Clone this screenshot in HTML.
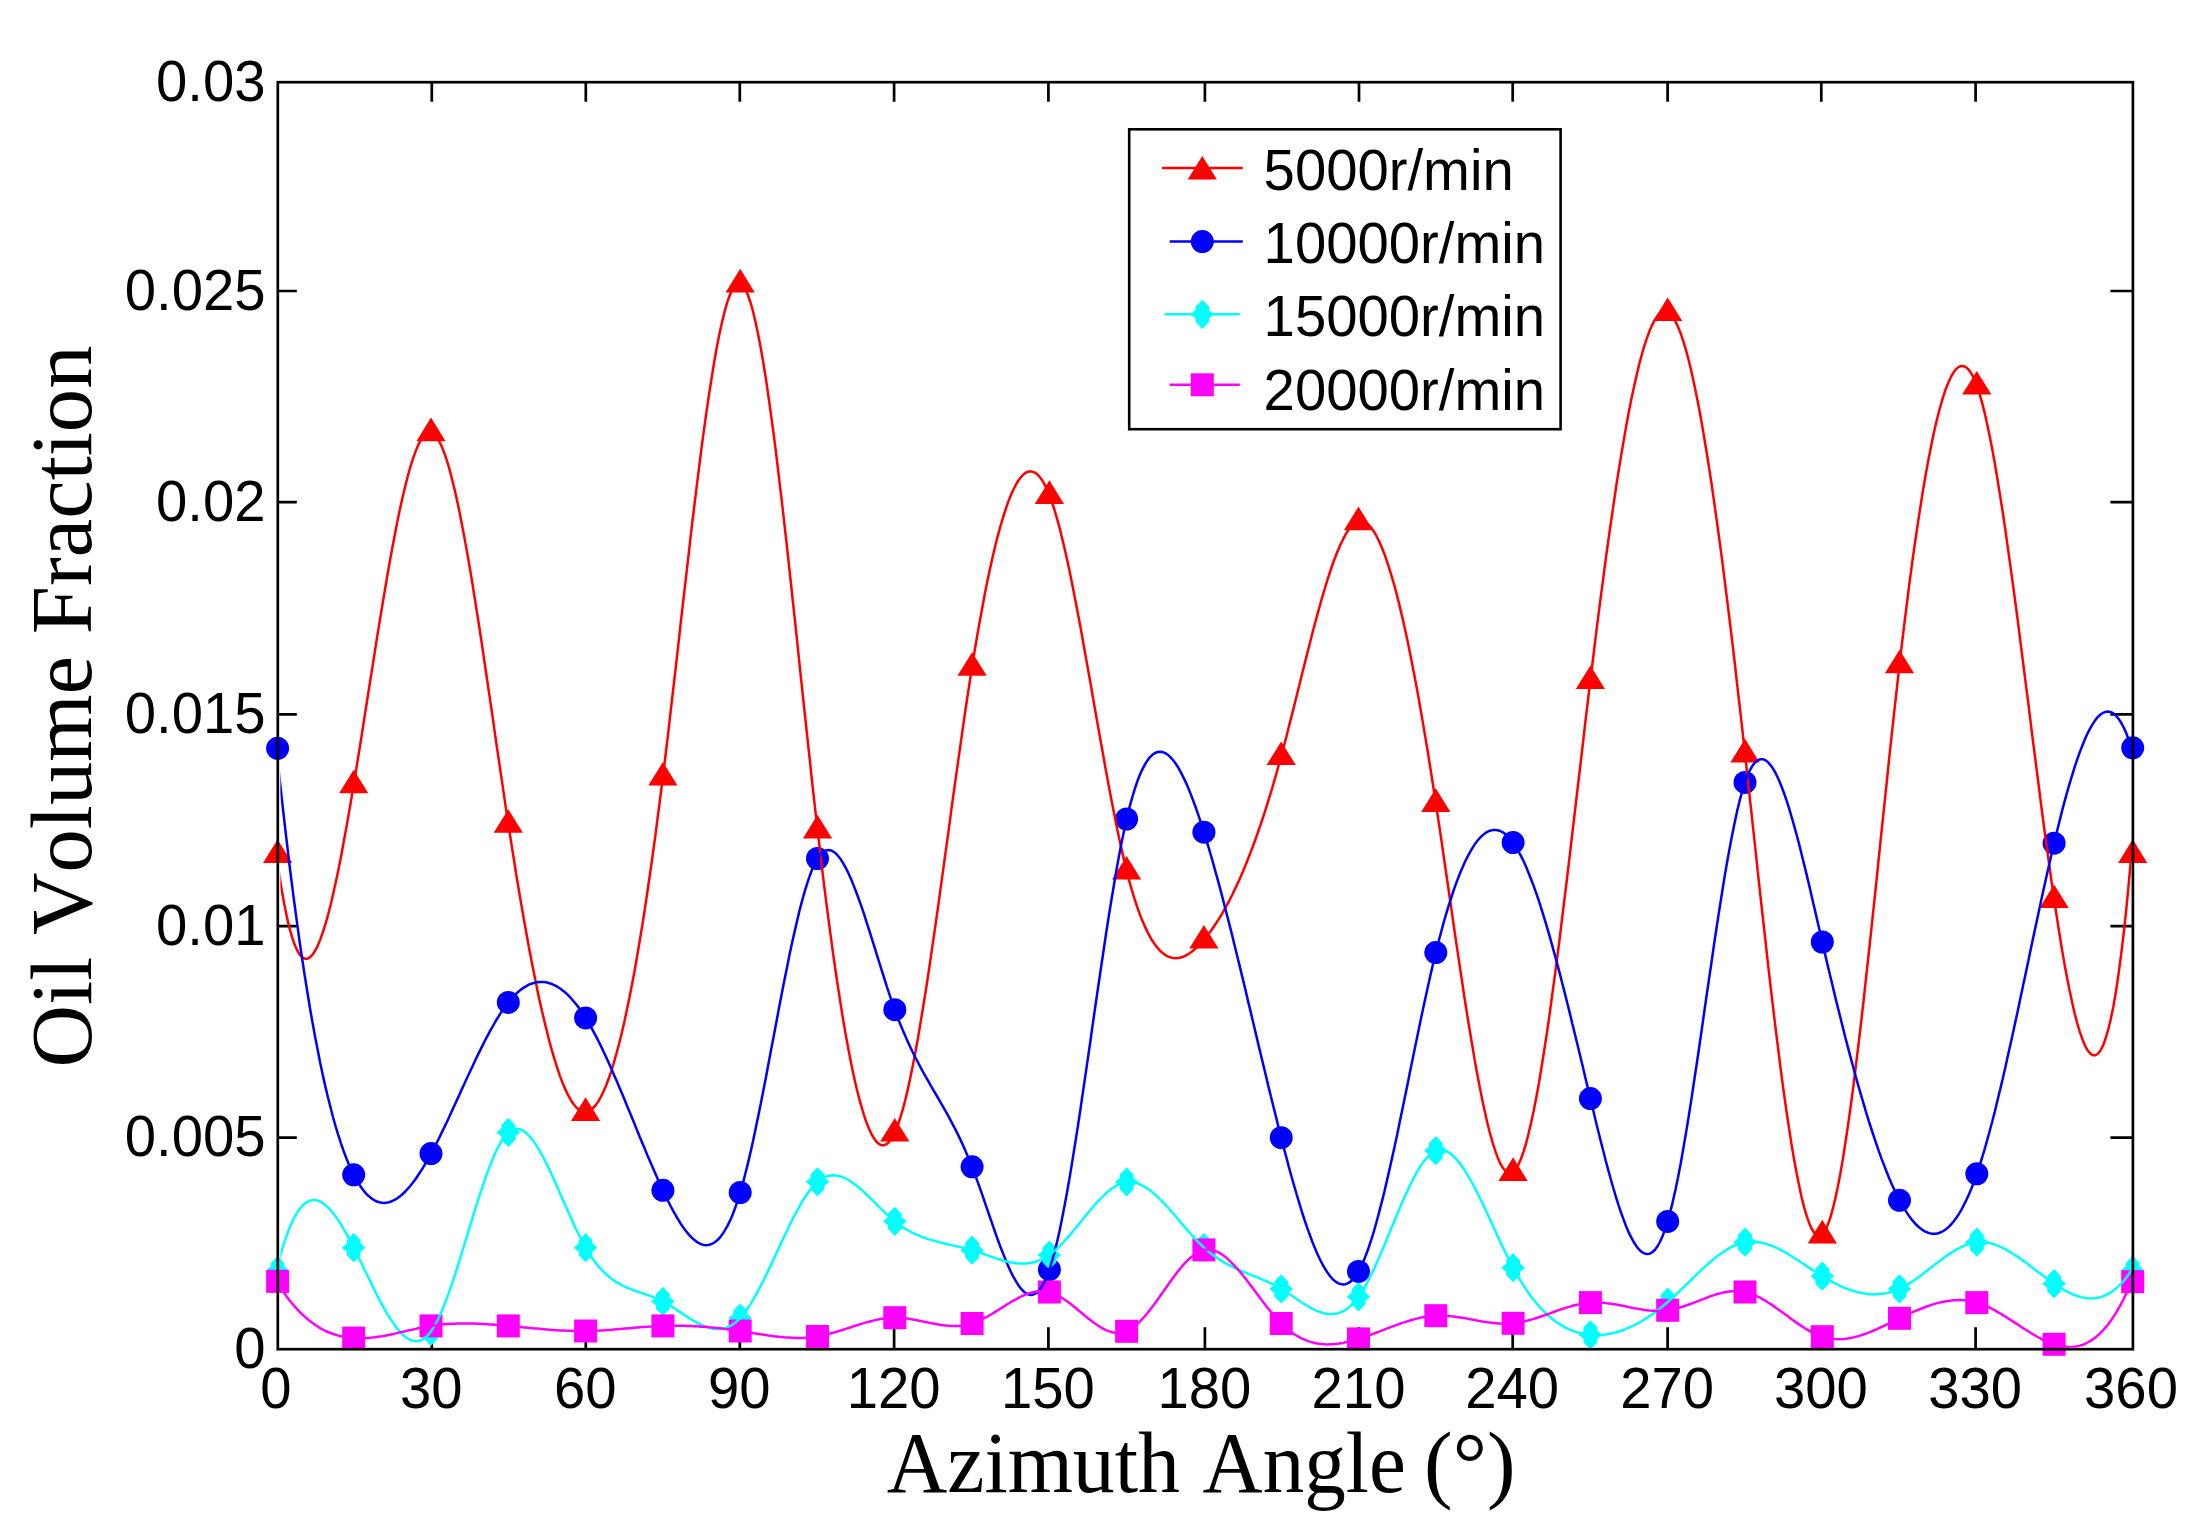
<!DOCTYPE html>
<html lang="en">
<head>
<meta charset="utf-8">
<title>Oil Volume Fraction vs Azimuth Angle</title>
<style>
html,body{margin:0;padding:0;background:#fff;}
body{width:2194px;height:1532px;overflow:hidden;}
svg{display:block;}
</style>
</head>
<body>
<svg width="2194" height="1532" viewBox="0 0 2194 1532">
<rect width="2194" height="1532" fill="#ffffff"/>
<g id="ticks" stroke="#000" stroke-width="2.7" fill="none" stroke-linecap="square">
<path stroke-linecap="butt" d="M431.8 82.2V101.7M431.8 1349.2V1327.2M585.8 82.2V101.7M585.8 1349.2V1327.2M739.8 82.2V101.7M739.8 1349.2V1327.2M894.1 82.2V101.7M894.1 1349.2V1327.2M1048.4 82.2V101.7M1048.4 1349.2V1327.2M1204.9 82.2V101.7M1204.9 1349.2V1327.2M1359 82.2V101.7M1359 1349.2V1327.2M1512.7 82.2V101.7M1512.7 1349.2V1327.2M1667.6 82.2V101.7M1667.6 1349.2V1327.2M1821.3 82.2V101.7M1821.3 1349.2V1327.2M1975.6 82.2V101.7M1975.6 1349.2V1327.2M277.8 1137.6H296.8M2132.9 1137.6H2110.4M277.8 926.2H296.8M2132.9 926.2H2110.4M277.8 714.3H296.8M2132.9 714.3H2110.4M277.8 502.2H296.8M2132.9 502.2H2110.4M277.8 291H296.8M2132.9 291H2110.4"/>
</g>
<g id="markers">
<g>
<polygon points="277.6,839.5 263,863.1 292.2,863.1" fill="#ff0000"/>
<polygon points="353.7,769.7 339.1,793.3 368.3,793.3" fill="#ff0000"/>
<polygon points="431,417.6 416.4,441.2 445.6,441.2" fill="#ff0000"/>
<polygon points="508.3,809.2 493.7,832.8 522.9,832.8" fill="#ff0000"/>
<polygon points="585.6,1097.3 571,1120.9 600.2,1120.9" fill="#ff0000"/>
<polygon points="662.9,762 648.3,785.6 677.5,785.6" fill="#ff0000"/>
<polygon points="740.2,268.8 725.6,292.4 754.8,292.4" fill="#ff0000"/>
<polygon points="817.5,814.8 802.9,838.4 832.1,838.4" fill="#ff0000"/>
<polygon points="894.8,1118 880.2,1141.6 909.4,1141.6" fill="#ff0000"/>
<polygon points="972.1,652.2 957.5,675.8 986.7,675.8" fill="#ff0000"/>
<polygon points="1049.4,480.3 1034.8,503.9 1064,503.9" fill="#ff0000"/>
<polygon points="1126.6,856 1112,879.6 1141.2,879.6" fill="#ff0000"/>
<polygon points="1203.9,925 1189.3,948.6 1218.5,948.6" fill="#ff0000"/>
<polygon points="1281.2,741.4 1266.6,765 1295.8,765" fill="#ff0000"/>
<polygon points="1358.5,506.6 1343.9,530.2 1373.1,530.2" fill="#ff0000"/>
<polygon points="1435.8,788.3 1421.2,811.9 1450.4,811.9" fill="#ff0000"/>
<polygon points="1513.1,1157.3 1498.5,1180.9 1527.7,1180.9" fill="#ff0000"/>
<polygon points="1590.4,665.5 1575.8,689.1 1605,689.1" fill="#ff0000"/>
<polygon points="1667.7,297.4 1653.1,321 1682.3,321" fill="#ff0000"/>
<polygon points="1745,738.8 1730.4,762.4 1759.6,762.4" fill="#ff0000"/>
<polygon points="1822.3,1219.8 1807.7,1243.4 1836.9,1243.4" fill="#ff0000"/>
<polygon points="1899.5,649.7 1884.9,673.3 1914.1,673.3" fill="#ff0000"/>
<polygon points="1976.8,371 1962.2,394.6 1991.4,394.6" fill="#ff0000"/>
<polygon points="2054.1,884.5 2039.5,908.1 2068.7,908.1" fill="#ff0000"/>
<polygon points="2132.7,839.3 2118.1,862.9 2147.3,862.9" fill="#ff0000"/>
</g>
<g>
<circle cx="277.6" cy="748.3" r="11.5" fill="#0000ff"/>
<circle cx="353.7" cy="1174.8" r="11.5" fill="#0000ff"/>
<circle cx="431" cy="1153.6" r="11.5" fill="#0000ff"/>
<circle cx="508.3" cy="1002.4" r="11.5" fill="#0000ff"/>
<circle cx="585.6" cy="1017.9" r="11.5" fill="#0000ff"/>
<circle cx="662.9" cy="1190.3" r="11.5" fill="#0000ff"/>
<circle cx="740.2" cy="1192.6" r="11.5" fill="#0000ff"/>
<circle cx="817.5" cy="858.5" r="11.5" fill="#0000ff"/>
<circle cx="894.8" cy="1009.7" r="11.5" fill="#0000ff"/>
<circle cx="972.1" cy="1166.8" r="11.5" fill="#0000ff"/>
<circle cx="1049.4" cy="1269.7" r="11.5" fill="#0000ff"/>
<circle cx="1126.6" cy="819" r="11.5" fill="#0000ff"/>
<circle cx="1203.9" cy="832.2" r="11.5" fill="#0000ff"/>
<circle cx="1281.2" cy="1137.7" r="11.5" fill="#0000ff"/>
<circle cx="1358.5" cy="1271.4" r="11.5" fill="#0000ff"/>
<circle cx="1435.8" cy="952.6" r="11.5" fill="#0000ff"/>
<circle cx="1513.1" cy="842.6" r="11.5" fill="#0000ff"/>
<circle cx="1590.4" cy="1098.6" r="11.5" fill="#0000ff"/>
<circle cx="1667.7" cy="1221.4" r="11.5" fill="#0000ff"/>
<circle cx="1745" cy="782.4" r="11.5" fill="#0000ff"/>
<circle cx="1822.3" cy="942" r="11.5" fill="#0000ff"/>
<circle cx="1899.5" cy="1200.3" r="11.5" fill="#0000ff"/>
<circle cx="1976.8" cy="1173.8" r="11.5" fill="#0000ff"/>
<circle cx="2054.1" cy="843.2" r="11.5" fill="#0000ff"/>
<circle cx="2132.7" cy="747.8" r="11.5" fill="#0000ff"/>
</g>
<g>
<polygon points="277.6,1256.1 284.5,1263.2 284.5,1266.6 289.4,1270.7 284.5,1274.8 284.5,1278.2 277.6,1285.3 270.7,1278.2 270.7,1274.8 265.8,1270.7 270.7,1266.6 270.7,1263.2" fill="#00ffff"/>
<polygon points="353.7,1233.1 360.6,1240.2 360.6,1243.6 365.5,1247.7 360.6,1251.8 360.6,1255.2 353.7,1262.3 346.8,1255.2 346.8,1251.8 341.9,1247.7 346.8,1243.6 346.8,1240.2" fill="#00ffff"/>
<polygon points="431,1316.7 437.9,1323.8 437.9,1327.2 442.8,1331.3 437.9,1335.4 437.9,1338.8 431,1345.9 424.1,1338.8 424.1,1335.4 419.2,1331.3 424.1,1327.2 424.1,1323.8" fill="#00ffff"/>
<polygon points="508.3,1117.8 515.2,1124.9 515.2,1128.3 520.1,1132.4 515.2,1136.5 515.2,1139.9 508.3,1147 501.4,1139.9 501.4,1136.5 496.5,1132.4 501.4,1128.3 501.4,1124.9" fill="#00ffff"/>
<polygon points="585.6,1233.1 592.5,1240.2 592.5,1243.6 597.4,1247.7 592.5,1251.8 592.5,1255.2 585.6,1262.3 578.7,1255.2 578.7,1251.8 573.8,1247.7 578.7,1243.6 578.7,1240.2" fill="#00ffff"/>
<polygon points="662.9,1286.8 669.8,1293.9 669.8,1297.3 674.7,1301.4 669.8,1305.5 669.8,1308.9 662.9,1316 656,1308.9 656,1305.5 651.1,1301.4 656,1297.3 656,1293.9" fill="#00ffff"/>
<polygon points="740.2,1303.4 747.1,1310.5 747.1,1313.9 752,1318 747.1,1322.1 747.1,1325.5 740.2,1332.6 733.3,1325.5 733.3,1322.1 728.4,1318 733.3,1313.9 733.3,1310.5" fill="#00ffff"/>
<polygon points="817.5,1167.2 824.4,1174.3 824.4,1177.7 829.3,1181.8 824.4,1185.9 824.4,1189.3 817.5,1196.4 810.6,1189.3 810.6,1185.9 805.7,1181.8 810.6,1177.7 810.6,1174.3" fill="#00ffff"/>
<polygon points="894.8,1206.7 901.7,1213.8 901.7,1217.2 906.6,1221.3 901.7,1225.4 901.7,1228.8 894.8,1235.9 887.9,1228.8 887.9,1225.4 883,1221.3 887.9,1217.2 887.9,1213.8" fill="#00ffff"/>
<polygon points="972.1,1235.6 979,1242.7 979,1246.1 983.9,1250.2 979,1254.3 979,1257.7 972.1,1264.8 965.2,1257.7 965.2,1254.3 960.3,1250.2 965.2,1246.1 965.2,1242.7" fill="#00ffff"/>
<polygon points="1049.4,1240.4 1056.3,1247.5 1056.3,1250.9 1061.2,1255 1056.3,1259.1 1056.3,1262.5 1049.4,1269.6 1042.5,1262.5 1042.5,1259.1 1037.6,1255 1042.5,1250.9 1042.5,1247.5" fill="#00ffff"/>
<polygon points="1126.6,1167.4 1133.5,1174.5 1133.5,1177.9 1138.4,1182 1133.5,1186.1 1133.5,1189.5 1126.6,1196.6 1119.7,1189.5 1119.7,1186.1 1114.8,1182 1119.7,1177.9 1119.7,1174.5" fill="#00ffff"/>
<polygon points="1203.9,1233 1210.8,1240.1 1210.8,1243.5 1215.7,1247.6 1210.8,1251.7 1210.8,1255.1 1203.9,1262.2 1197,1255.1 1197,1251.7 1192.1,1247.6 1197,1243.5 1197,1240.1" fill="#00ffff"/>
<polygon points="1281.2,1274.3 1288.1,1281.4 1288.1,1284.8 1293,1288.9 1288.1,1293 1288.1,1296.4 1281.2,1303.5 1274.3,1296.4 1274.3,1293 1269.4,1288.9 1274.3,1284.8 1274.3,1281.4" fill="#00ffff"/>
<polygon points="1358.5,1282.2 1365.4,1289.3 1365.4,1292.7 1370.3,1296.8 1365.4,1300.9 1365.4,1304.3 1358.5,1311.4 1351.6,1304.3 1351.6,1300.9 1346.7,1296.8 1351.6,1292.7 1351.6,1289.3" fill="#00ffff"/>
<polygon points="1435.8,1136.1 1442.7,1143.2 1442.7,1146.6 1447.6,1150.7 1442.7,1154.8 1442.7,1158.2 1435.8,1165.3 1428.9,1158.2 1428.9,1154.8 1424,1150.7 1428.9,1146.6 1428.9,1143.2" fill="#00ffff"/>
<polygon points="1513.1,1253.1 1520,1260.2 1520,1263.6 1524.9,1267.7 1520,1271.8 1520,1275.2 1513.1,1282.3 1506.2,1275.2 1506.2,1271.8 1501.3,1267.7 1506.2,1263.6 1506.2,1260.2" fill="#00ffff"/>
<polygon points="1590.4,1320.2 1597.3,1327.3 1597.3,1330.7 1602.2,1334.8 1597.3,1338.9 1597.3,1342.3 1590.4,1349.4 1583.5,1342.3 1583.5,1338.9 1578.6,1334.8 1583.5,1330.7 1583.5,1327.3" fill="#00ffff"/>
<polygon points="1667.7,1287.4 1674.6,1294.5 1674.6,1297.9 1679.5,1302 1674.6,1306.1 1674.6,1309.5 1667.7,1316.6 1660.8,1309.5 1660.8,1306.1 1655.9,1302 1660.8,1297.9 1660.8,1294.5" fill="#00ffff"/>
<polygon points="1745,1227.6 1751.9,1234.7 1751.9,1238.1 1756.8,1242.2 1751.9,1246.3 1751.9,1249.7 1745,1256.8 1738.1,1249.7 1738.1,1246.3 1733.2,1242.2 1738.1,1238.1 1738.1,1234.7" fill="#00ffff"/>
<polygon points="1822.3,1261.6 1829.2,1268.7 1829.2,1272.1 1834.1,1276.2 1829.2,1280.3 1829.2,1283.7 1822.3,1290.8 1815.4,1283.7 1815.4,1280.3 1810.5,1276.2 1815.4,1272.1 1815.4,1268.7" fill="#00ffff"/>
<polygon points="1899.5,1274.2 1906.4,1281.3 1906.4,1284.7 1911.3,1288.8 1906.4,1292.9 1906.4,1296.3 1899.5,1303.4 1892.6,1296.3 1892.6,1292.9 1887.7,1288.8 1892.6,1284.7 1892.6,1281.3" fill="#00ffff"/>
<polygon points="1976.8,1227.6 1983.7,1234.7 1983.7,1238.1 1988.6,1242.2 1983.7,1246.3 1983.7,1249.7 1976.8,1256.8 1969.9,1249.7 1969.9,1246.3 1965,1242.2 1969.9,1238.1 1969.9,1234.7" fill="#00ffff"/>
<polygon points="2054.1,1269.1 2061,1276.2 2061,1279.6 2065.9,1283.7 2061,1287.8 2061,1291.2 2054.1,1298.3 2047.2,1291.2 2047.2,1287.8 2042.3,1283.7 2047.2,1279.6 2047.2,1276.2" fill="#00ffff"/>
<polygon points="2132.7,1255.8 2139.6,1262.9 2139.6,1266.3 2144.5,1270.4 2139.6,1274.5 2139.6,1277.9 2132.7,1285 2125.8,1277.9 2125.8,1274.5 2120.9,1270.4 2125.8,1266.3 2125.8,1262.9" fill="#00ffff"/>
</g>
<g>
<rect x="266.1" y="1269.9" width="23" height="23" fill="#ff00ff"/>
<rect x="342.2" y="1326.6" width="23" height="23" fill="#ff00ff"/>
<rect x="419.5" y="1314.4" width="23" height="23" fill="#ff00ff"/>
<rect x="496.8" y="1314.4" width="23" height="23" fill="#ff00ff"/>
<rect x="574.1" y="1319.5" width="23" height="23" fill="#ff00ff"/>
<rect x="651.4" y="1314.4" width="23" height="23" fill="#ff00ff"/>
<rect x="728.7" y="1319.5" width="23" height="23" fill="#ff00ff"/>
<rect x="806" y="1324.9" width="23" height="23" fill="#ff00ff"/>
<rect x="883.3" y="1306.2" width="23" height="23" fill="#ff00ff"/>
<rect x="960.6" y="1312" width="23" height="23" fill="#ff00ff"/>
<rect x="1037.9" y="1280.5" width="23" height="23" fill="#ff00ff"/>
<rect x="1115.1" y="1319.8" width="23" height="23" fill="#ff00ff"/>
<rect x="1192.4" y="1238.4" width="23" height="23" fill="#ff00ff"/>
<rect x="1269.7" y="1312" width="23" height="23" fill="#ff00ff"/>
<rect x="1347" y="1327.4" width="23" height="23" fill="#ff00ff"/>
<rect x="1424.3" y="1304.2" width="23" height="23" fill="#ff00ff"/>
<rect x="1501.6" y="1311.8" width="23" height="23" fill="#ff00ff"/>
<rect x="1578.9" y="1291.1" width="23" height="23" fill="#ff00ff"/>
<rect x="1656.2" y="1298.8" width="23" height="23" fill="#ff00ff"/>
<rect x="1733.5" y="1280.5" width="23" height="23" fill="#ff00ff"/>
<rect x="1810.8" y="1325.2" width="23" height="23" fill="#ff00ff"/>
<rect x="1888" y="1306.8" width="23" height="23" fill="#ff00ff"/>
<rect x="1965.3" y="1291.1" width="23" height="23" fill="#ff00ff"/>
<rect x="2042.6" y="1332.8" width="23" height="23" fill="#ff00ff"/>
<rect x="2121.2" y="1270.2" width="23" height="23" fill="#ff00ff"/>
</g>
</g>
<defs><clipPath id="plotclip"><rect x="280.4" y="83.6" width="1851.1" height="1264.2"/></clipPath></defs>
<g id="curves" fill="none" stroke-width="2.5" stroke-linejoin="bevel" clip-path="url(#plotclip)">
<polyline stroke="#ff0000" points="276.4,854.2 279,872.7 281.6,889.2 284.2,903.8 286.8,916.6 289.3,927.5 291.9,936.7 294.5,944.3 297.1,950.2 299.6,954.5 302.2,957.3 304.8,958.7 307.4,958.7 309.9,957.3 312.5,954.7 315.1,950.8 317.7,945.8 320.2,939.6 322.8,932.4 325.4,924.2 328,915.1 330.6,905 333.1,894.2 335.7,882.6 338.3,870.2 340.9,857.2 343.4,843.6 346,829.5 348.6,814.9 351.2,799.8 353.7,784.4 356.3,768.7 358.9,752.7 361.5,736.5 364,720.2 366.6,703.7 369.2,687.3 371.8,670.9 374.4,654.5 376.9,638.4 379.5,622.4 382.1,606.6 384.7,591.2 387.2,576.2 389.8,561.5 392.4,547.4 395,533.8 397.5,520.8 400.1,508.5 402.7,496.8 405.3,486 407.8,476 410.4,466.8 413,458.6 415.6,451.4 418.1,445.2 420.7,440.2 423.3,436.3 425.9,433.7 428.5,432.3 431,432.3 433.6,433.7 436.2,436.4 438.8,440.3 441.3,445.5 443.9,451.9 446.5,459.4 449.1,467.9 451.6,477.5 454.2,487.9 456.8,499.3 459.4,511.5 461.9,524.4 464.5,538.1 467.1,552.4 469.7,567.3 472.3,582.8 474.8,598.7 477.4,615.1 480,631.8 482.6,648.9 485.1,666.2 487.7,683.7 490.3,701.3 492.9,719 495.4,736.8 498,754.5 500.6,772.1 503.2,789.6 505.7,806.9 508.3,823.9 510.9,840.6 513.5,857 516,873 518.6,888.7 521.2,903.9 523.8,918.8 526.4,933.3 528.9,947.3 531.5,960.8 534.1,973.9 536.7,986.6 539.2,998.7 541.8,1010.3 544.4,1021.3 547,1031.8 549.5,1041.8 552.1,1051.1 554.7,1059.9 557.3,1068 559.8,1075.6 562.4,1082.4 565,1088.6 567.6,1094.1 570.2,1098.9 572.7,1103 575.3,1106.3 577.9,1108.9 580.5,1110.7 583,1111.8 585.6,1112 588.2,1111.4 590.8,1110 593.3,1107.8 595.9,1104.9 598.5,1101.1 601.1,1096.5 603.6,1091.2 606.2,1085.2 608.8,1078.3 611.4,1070.8 613.9,1062.5 616.5,1053.4 619.1,1043.7 621.7,1033.3 624.3,1022.1 626.8,1010.3 629.4,997.7 632,984.6 634.6,970.7 637.1,956.2 639.7,941 642.3,925.2 644.9,908.8 647.4,891.7 650,874 652.6,855.7 655.2,836.8 657.7,817.4 660.3,797.3 662.9,776.7 665.5,755.5 668.1,733.9 670.6,711.8 673.2,689.5 675.8,666.9 678.4,644.2 680.9,621.5 683.5,598.8 686.1,576.2 688.7,553.8 691.2,531.7 693.8,510 696.4,488.8 699,468.2 701.5,448.1 704.1,428.9 706.7,410.4 709.3,392.8 711.9,376.2 714.4,360.7 717,346.3 719.6,333.2 722.2,321.4 724.7,311.1 727.3,302.2 729.9,295 732.5,289.4 735,285.5 737.6,283.5 740.2,283.5 742.8,285.4 745.3,289.3 747.9,295 750.5,302.5 753.1,311.7 755.6,322.4 758.2,334.7 760.8,348.3 763.4,363.3 766,379.5 768.5,396.9 771.1,415.3 773.7,434.7 776.3,455 778.8,476.1 781.4,497.9 784,520.3 786.6,543.3 789.1,566.7 791.7,590.5 794.3,614.6 796.9,638.8 799.4,663.2 802,687.6 804.6,711.9 807.2,736.1 809.8,760 812.3,783.6 814.9,806.8 817.5,829.5 820.1,851.6 822.6,873.1 825.2,893.9 827.8,914.1 830.4,933.6 832.9,952.4 835.5,970.5 838.1,987.8 840.7,1004.4 843.2,1020.1 845.8,1035.1 848.4,1049.2 851,1062.4 853.5,1074.7 856.1,1086.2 858.7,1096.7 861.3,1106.2 863.9,1114.8 866.4,1122.3 869,1128.8 871.6,1134.3 874.2,1138.7 876.7,1142 879.3,1144.2 881.9,1145.3 884.5,1145.2 887,1143.9 889.6,1141.4 892.2,1137.7 894.8,1132.7 897.3,1126.5 899.9,1119 902.5,1110.4 905.1,1100.7 907.7,1089.9 910.2,1078.2 912.8,1065.6 915.4,1052.1 918,1037.9 920.5,1022.9 923.1,1007.3 925.7,991.1 928.3,974.3 930.8,957.1 933.4,939.4 936,921.4 938.6,903.1 941.1,884.6 943.7,865.9 946.3,847.1 948.9,828.3 951.4,809.4 954,790.7 956.6,772.1 959.2,753.7 961.8,735.6 964.3,717.8 966.9,700.3 969.5,683.4 972.1,666.9 974.6,651 977.2,635.7 979.8,621 982.4,606.9 984.9,593.4 987.5,580.6 990.1,568.4 992.7,556.8 995.2,546 997.8,535.8 1000.4,526.3 1003,517.5 1005.6,509.5 1008.1,502.1 1010.7,495.6 1013.3,489.8 1015.9,484.7 1018.4,480.5 1021,477 1023.6,474.3 1026.2,472.5 1028.7,471.5 1031.3,471.4 1033.9,472.1 1036.5,473.6 1039,476.1 1041.6,479.4 1044.2,483.7 1046.8,488.9 1049.4,495 1051.9,502 1054.5,510 1057.1,518.8 1059.7,528.3 1062.2,538.6 1064.8,549.5 1067.4,561.1 1070,573.2 1072.5,585.8 1075.1,598.9 1077.7,612.4 1080.3,626.2 1082.8,640.3 1085.4,654.7 1088,669.2 1090.6,683.8 1093.1,698.5 1095.7,713.2 1098.3,727.9 1100.9,742.5 1103.5,756.9 1106,771.1 1108.6,785 1111.2,798.7 1113.8,811.9 1116.3,824.7 1118.9,837.1 1121.5,848.9 1124.1,860.1 1126.6,870.7 1129.2,880.6 1131.8,889.8 1134.4,898.3 1136.9,906.2 1139.5,913.4 1142.1,920.1 1144.7,926.1 1147.3,931.6 1149.8,936.5 1152.4,940.8 1155,944.6 1157.6,947.9 1160.1,950.8 1162.7,953.1 1165.3,955 1167.9,956.4 1170.4,957.4 1173,958 1175.6,958.2 1178.2,958.1 1180.7,957.5 1183.3,956.7 1185.9,955.5 1188.5,954 1191,952.3 1193.6,950.2 1196.2,947.9 1198.8,945.4 1201.4,942.6 1203.9,939.7 1206.5,936.6 1209.1,933.2 1211.7,929.7 1214.2,926 1216.8,922.2 1219.4,918.1 1222,913.8 1224.5,909.3 1227.1,904.6 1229.7,899.8 1232.3,894.7 1234.8,889.4 1237.4,883.9 1240,878.2 1242.6,872.2 1245.2,866.1 1247.7,859.7 1250.3,853.1 1252.9,846.3 1255.5,839.3 1258,832 1260.6,824.6 1263.2,816.8 1265.8,808.9 1268.3,800.7 1270.9,792.3 1273.5,783.6 1276.1,774.7 1278.6,765.5 1281.2,756.1 1283.8,746.5 1286.4,736.6 1288.9,726.5 1291.5,716.4 1294.1,706.1 1296.7,695.7 1299.3,685.3 1301.8,675 1304.4,664.6 1307,654.4 1309.6,644.2 1312.1,634.2 1314.7,624.4 1317.3,614.8 1319.9,605.5 1322.4,596.5 1325,587.8 1327.6,579.4 1330.2,571.5 1332.7,564 1335.3,557 1337.9,550.5 1340.5,544.5 1343.1,539.2 1345.6,534.4 1348.2,530.3 1350.8,526.9 1353.4,524.3 1355.9,522.4 1358.5,521.3 1361.1,521 1363.7,521.6 1366.2,523 1368.8,525.1 1371.4,528.1 1374,531.7 1376.5,536.2 1379.1,541.3 1381.7,547.2 1384.3,553.7 1386.8,560.9 1389.4,568.8 1392,577.3 1394.6,586.4 1397.2,596.1 1399.7,606.4 1402.3,617.3 1404.9,628.8 1407.5,640.7 1410,653.2 1412.6,666.2 1415.2,679.7 1417.8,693.6 1420.3,708 1422.9,722.9 1425.5,738.1 1428.1,753.8 1430.6,769.8 1433.2,786.2 1435.8,803 1438.4,820.1 1441,837.4 1443.5,855 1446.1,872.7 1448.7,890.5 1451.3,908.3 1453.8,926 1456.4,943.6 1459,961.1 1461.6,978.3 1464.1,995.2 1466.7,1011.7 1469.3,1027.8 1471.9,1043.3 1474.4,1058.4 1477,1072.7 1479.6,1086.4 1482.2,1099.4 1484.8,1111.5 1487.3,1122.7 1489.9,1133 1492.5,1142.2 1495.1,1150.4 1497.6,1157.4 1500.2,1163.3 1502.8,1167.8 1505.4,1171 1507.9,1172.8 1510.5,1173.2 1513.1,1172 1515.7,1169.2 1518.2,1165 1520.8,1159.2 1523.4,1152.1 1526,1143.6 1528.5,1133.8 1531.1,1122.8 1533.7,1110.7 1536.3,1097.4 1538.9,1083.2 1541.4,1068 1544,1051.8 1546.6,1034.9 1549.2,1017.2 1551.7,998.7 1554.3,979.7 1556.9,960 1559.5,939.8 1562,919.2 1564.6,898.2 1567.2,876.8 1569.8,855.2 1572.3,833.4 1574.9,811.4 1577.5,789.4 1580.1,767.3 1582.7,745.3 1585.2,723.4 1587.8,701.7 1590.4,680.2 1593,659 1595.5,638.2 1598.1,617.7 1600.7,597.6 1603.3,577.9 1605.8,558.7 1608.4,540 1611,521.7 1613.6,504.1 1616.1,487 1618.7,470.5 1621.3,454.6 1623.9,439.4 1626.4,424.9 1629,411.1 1631.6,398.1 1634.2,385.9 1636.8,374.5 1639.3,363.9 1641.9,354.2 1644.5,345.4 1647.1,337.6 1649.6,330.7 1652.2,324.8 1654.8,319.9 1657.4,316.1 1659.9,313.4 1662.5,311.8 1665.1,311.4 1667.7,312.1 1670.2,314 1672.8,317.1 1675.4,321.4 1678,326.8 1680.6,333.2 1683.1,340.7 1685.7,349.2 1688.3,358.7 1690.9,369.2 1693.4,380.6 1696,392.9 1698.6,406 1701.2,420 1703.7,434.7 1706.3,450.2 1708.9,466.5 1711.5,483.5 1714,501.1 1716.6,519.4 1719.2,538.3 1721.8,557.7 1724.3,577.7 1726.9,598.2 1729.5,619.2 1732.1,640.7 1734.7,662.5 1737.2,684.8 1739.8,707.4 1742.4,730.3 1745,753.5 1747.5,777 1750.1,800.6 1752.7,824.4 1755.3,848.2 1757.8,871.9 1760.4,895.5 1763,919 1765.6,942.2 1768.1,965 1770.7,987.4 1773.3,1009.4 1775.9,1030.8 1778.5,1051.5 1781,1071.6 1783.6,1090.8 1786.2,1109.2 1788.8,1126.6 1791.3,1143.1 1793.9,1158.4 1796.5,1172.6 1799.1,1185.6 1801.6,1197.3 1804.2,1207.6 1806.8,1216.4 1809.4,1223.7 1811.9,1229.3 1814.5,1233.3 1817.1,1235.6 1819.7,1236 1822.3,1234.5 1824.8,1231.1 1827.4,1225.7 1830,1218.6 1832.6,1209.7 1835.1,1199.2 1837.7,1187.2 1840.3,1173.7 1842.9,1158.9 1845.4,1142.8 1848,1125.4 1850.6,1107 1853.2,1087.6 1855.7,1067.2 1858.3,1046 1860.9,1024.1 1863.5,1001.5 1866,978.3 1868.6,954.6 1871.2,930.6 1873.8,906.2 1876.4,881.6 1878.9,856.8 1881.5,832 1884.1,807.2 1886.7,782.6 1889.2,758.2 1891.8,734.1 1894.4,710.3 1897,687.1 1899.5,664.4 1902.1,642.4 1904.7,621 1907.3,600.3 1909.8,580.3 1912.4,561.1 1915,542.7 1917.6,525 1920.2,508.1 1922.7,492.1 1925.3,476.9 1927.9,462.6 1930.5,449.2 1933,436.7 1935.6,425.1 1938.2,414.5 1940.8,404.9 1943.3,396.3 1945.9,388.7 1948.5,382.2 1951.1,376.7 1953.6,372.3 1956.2,369 1958.8,366.9 1961.4,366 1963.9,366.2 1966.5,367.6 1969.1,370.2 1971.7,374.1 1974.3,379.3 1976.8,385.7 1979.4,393.4 1982,402.4 1984.6,412.6 1987.1,423.9 1989.7,436.2 1992.3,449.6 1994.9,463.8 1997.4,479 2000,494.9 2002.6,511.5 2005.2,528.9 2007.7,546.8 2010.3,565.3 2012.9,584.2 2015.5,603.5 2018.1,623.2 2020.6,643.2 2023.2,663.4 2025.8,683.8 2028.4,704.2 2030.9,724.6 2033.5,745.1 2036.1,765.4 2038.7,785.5 2041.2,805.4 2043.8,825 2046.4,844.3 2049,863.1 2051.5,881.4 2054.1,899.2 2056.7,916.3 2059.3,932.8 2061.8,948.5 2064.4,963.4 2067,977.5 2069.6,990.5 2072.2,1002.6 2074.7,1013.6 2077.3,1023.5 2079.9,1032.1 2082.5,1039.5 2085,1045.6 2087.6,1050.3 2090.2,1053.5 2092.8,1055.2 2095.3,1055.3 2097.9,1053.7 2100.5,1050.5 2103.1,1045.4 2105.6,1038.5 2108.2,1029.7 2110.8,1019 2113.4,1006.2 2116,991.2 2118.5,974.2 2121.1,954.9 2123.7,933.2 2126.3,909.3 2128.8,882.9 2131.4,854"/>
<polyline stroke="#0000ff" points="276.4,748.3 279,773 281.6,796.8 284.2,819.8 286.8,842 289.3,863.5 291.9,884.1 294.5,904 297.1,923.1 299.6,941.5 302.2,959.1 304.8,976 307.4,992.2 309.9,1007.7 312.5,1022.5 315.1,1036.7 317.7,1050.1 320.2,1062.9 322.8,1075.1 325.4,1086.6 328,1097.5 330.6,1107.8 333.1,1117.5 335.7,1126.6 338.3,1135.1 340.9,1143.1 343.4,1150.5 346,1157.4 348.6,1163.7 351.2,1169.5 353.7,1174.8 356.3,1179.6 358.9,1183.9 361.5,1187.8 364,1191.2 366.6,1194.1 369.2,1196.6 371.8,1198.6 374.4,1200.3 376.9,1201.5 379.5,1202.3 382.1,1202.8 384.7,1202.9 387.2,1202.6 389.8,1202 392.4,1201 395,1199.7 397.5,1198.1 400.1,1196.2 402.7,1194 405.3,1191.5 407.8,1188.7 410.4,1185.7 413,1182.5 415.6,1179 418.1,1175.2 420.7,1171.3 423.3,1167.1 425.9,1162.8 428.5,1158.3 431,1153.6 433.6,1148.8 436.2,1143.8 438.8,1138.7 441.3,1133.4 443.9,1128.1 446.5,1122.7 449.1,1117.2 451.6,1111.6 454.2,1106 456.8,1100.4 459.4,1094.8 461.9,1089.1 464.5,1083.5 467.1,1077.8 469.7,1072.3 472.3,1066.7 474.8,1061.3 477.4,1055.9 480,1050.6 482.6,1045.4 485.1,1040.3 487.7,1035.4 490.3,1030.6 492.9,1026 495.4,1021.5 498,1017.3 500.6,1013.2 503.2,1009.4 505.7,1005.8 508.3,1002.4 510.9,999.3 513.5,996.4 516,993.9 518.6,991.5 521.2,989.4 523.8,987.6 526.4,986.1 528.9,984.7 531.5,983.7 534.1,982.9 536.7,982.3 539.2,982 541.8,981.9 544.4,982.1 547,982.5 549.5,983.2 552.1,984.1 554.7,985.3 557.3,986.7 559.8,988.3 562.4,990.2 565,992.3 567.6,994.7 570.2,997.3 572.7,1000.2 575.3,1003.2 577.9,1006.5 580.5,1010.1 583,1013.9 585.6,1017.9 588.2,1022.1 590.8,1026.6 593.3,1031.3 595.9,1036.2 598.5,1041.2 601.1,1046.4 603.6,1051.8 606.2,1057.3 608.8,1063 611.4,1068.8 613.9,1074.7 616.5,1080.6 619.1,1086.7 621.7,1092.8 624.3,1099 626.8,1105.3 629.4,1111.5 632,1117.8 634.6,1124.1 637.1,1130.4 639.7,1136.7 642.3,1142.9 644.9,1149.1 647.4,1155.3 650,1161.3 652.6,1167.3 655.2,1173.3 657.7,1179.1 660.3,1184.7 662.9,1190.3 665.5,1195.7 668.1,1201 670.6,1206 673.2,1210.9 675.8,1215.5 678.4,1219.9 680.9,1224 683.5,1227.8 686.1,1231.3 688.7,1234.4 691.2,1237.2 693.8,1239.6 696.4,1241.6 699,1243.2 701.5,1244.4 704.1,1245 706.7,1245.2 709.3,1244.8 711.9,1243.9 714.4,1242.5 717,1240.5 719.6,1237.9 722.2,1234.6 724.7,1230.7 727.3,1226.2 729.9,1220.9 732.5,1215 735,1208.3 737.6,1200.8 740.2,1192.6 742.8,1183.6 745.3,1173.8 747.9,1163.4 750.5,1152.4 753.1,1140.8 755.6,1128.8 758.2,1116.3 760.8,1103.5 763.4,1090.3 766,1077 768.5,1063.5 771.1,1049.8 773.7,1036.2 776.3,1022.5 778.8,1009 781.4,995.5 784,982.3 786.6,969.4 789.1,956.8 791.7,944.6 794.3,932.9 796.9,921.7 799.4,911 802,901.1 804.6,891.8 807.2,883.3 809.8,875.7 812.3,869 814.9,863.2 817.5,858.5 820.1,854.8 822.6,852.2 825.2,850.6 827.8,850 830.4,850.2 832.9,851.3 835.5,853.2 838.1,855.9 840.7,859.2 843.2,863.3 845.8,867.9 848.4,873.2 851,878.9 853.5,885.1 856.1,891.7 858.7,898.8 861.3,906.1 863.9,913.7 866.4,921.6 869,929.6 871.6,937.8 874.2,946.1 876.7,954.4 879.3,962.7 881.9,970.9 884.5,979.1 887,987.1 889.6,994.9 892.2,1002.4 894.8,1009.7 897.3,1016.6 899.9,1023.2 902.5,1029.6 905.1,1035.6 907.7,1041.4 910.2,1047 912.8,1052.3 915.4,1057.5 918,1062.4 920.5,1067.3 923.1,1072 925.7,1076.6 928.3,1081.1 930.8,1085.6 933.4,1090.1 936,1094.5 938.6,1098.9 941.1,1103.4 943.7,1107.9 946.3,1112.4 948.9,1117.1 951.4,1121.9 954,1126.8 956.6,1131.9 959.2,1137.1 961.8,1142.6 964.3,1148.2 966.9,1154.2 969.5,1160.3 972.1,1166.8 974.6,1173.6 977.2,1180.6 979.8,1187.8 982.4,1195.2 984.9,1202.7 987.5,1210.2 990.1,1217.7 992.7,1225.2 995.2,1232.5 997.8,1239.7 1000.4,1246.7 1003,1253.4 1005.6,1259.8 1008.1,1265.9 1010.7,1271.5 1013.3,1276.6 1015.9,1281.2 1018.4,1285.3 1021,1288.7 1023.6,1291.4 1026.2,1293.4 1028.7,1294.6 1031.3,1295 1033.9,1294.4 1036.5,1293 1039,1290.5 1041.6,1287 1044.2,1282.4 1046.8,1276.7 1049.4,1269.7 1051.9,1261.5 1054.5,1252.1 1057.1,1241.7 1059.7,1230.2 1062.2,1217.7 1064.8,1204.4 1067.4,1190.3 1070,1175.4 1072.5,1159.9 1075.1,1143.9 1077.7,1127.3 1080.3,1110.3 1082.8,1093 1085.4,1075.4 1088,1057.6 1090.6,1039.7 1093.1,1021.7 1095.7,1003.8 1098.3,986 1100.9,968.4 1103.5,951 1106,934 1108.6,917.4 1111.2,901.2 1113.8,885.7 1116.3,870.8 1118.9,856.6 1121.5,843.1 1124.1,830.6 1126.6,819 1129.2,808.4 1131.8,798.8 1134.4,790.2 1136.9,782.5 1139.5,775.7 1142.1,769.8 1144.7,764.8 1147.3,760.7 1149.8,757.3 1152.4,754.8 1155,753 1157.6,752 1160.1,751.7 1162.7,752.1 1165.3,753.1 1167.9,754.8 1170.4,757.1 1173,760 1175.6,763.5 1178.2,767.5 1180.7,772.1 1183.3,777.1 1185.9,782.6 1188.5,788.6 1191,794.9 1193.6,801.7 1196.2,808.8 1198.8,816.3 1201.4,824.1 1203.9,832.2 1206.5,840.6 1209.1,849.2 1211.7,858 1214.2,867.1 1216.8,876.4 1219.4,885.9 1222,895.6 1224.5,905.5 1227.1,915.5 1229.7,925.6 1232.3,935.9 1234.8,946.3 1237.4,956.8 1240,967.4 1242.6,978.1 1245.2,988.8 1247.7,999.6 1250.3,1010.4 1252.9,1021.3 1255.5,1032.1 1258,1042.9 1260.6,1053.7 1263.2,1064.5 1265.8,1075.2 1268.3,1085.9 1270.9,1096.5 1273.5,1106.9 1276.1,1117.3 1278.6,1127.6 1281.2,1137.7 1283.8,1147.7 1286.4,1157.5 1288.9,1167.1 1291.5,1176.5 1294.1,1185.6 1296.7,1194.5 1299.3,1203.2 1301.8,1211.5 1304.4,1219.5 1307,1227.1 1309.6,1234.3 1312.1,1241.2 1314.7,1247.6 1317.3,1253.7 1319.9,1259.2 1322.4,1264.2 1325,1268.8 1327.6,1272.8 1330.2,1276.3 1332.7,1279.2 1335.3,1281.4 1337.9,1283.1 1340.5,1284.1 1343.1,1284.5 1345.6,1284.2 1348.2,1283.1 1350.8,1281.4 1353.4,1278.8 1355.9,1275.5 1358.5,1271.4 1361.1,1266.5 1363.7,1260.8 1366.2,1254.3 1368.8,1247.2 1371.4,1239.4 1374,1231 1376.5,1222 1379.1,1212.4 1381.7,1202.4 1384.3,1192 1386.8,1181.1 1389.4,1169.9 1392,1158.3 1394.6,1146.5 1397.2,1134.4 1399.7,1122.1 1402.3,1109.7 1404.9,1097.1 1407.5,1084.5 1410,1071.8 1412.6,1059.2 1415.2,1046.6 1417.8,1034.1 1420.3,1021.7 1422.9,1009.5 1425.5,997.5 1428.1,985.8 1430.6,974.4 1433.2,963.3 1435.8,952.6 1438.4,942.3 1441,932.5 1443.5,923.1 1446.1,914.1 1448.7,905.6 1451.3,897.5 1453.8,889.8 1456.4,882.6 1459,875.8 1461.6,869.5 1464.1,863.7 1466.7,858.3 1469.3,853.3 1471.9,848.8 1474.4,844.8 1477,841.3 1479.6,838.2 1482.2,835.6 1484.8,833.5 1487.3,831.9 1489.9,830.7 1492.5,830.1 1495.1,829.9 1497.6,830.2 1500.2,831 1502.8,832.3 1505.4,834.1 1507.9,836.5 1510.5,839.3 1513.1,842.6 1515.7,846.4 1518.2,850.8 1520.8,855.6 1523.4,860.8 1526,866.5 1528.5,872.7 1531.1,879.2 1533.7,886.1 1536.3,893.4 1538.9,901 1541.4,909 1544,917.2 1546.6,925.8 1549.2,934.6 1551.7,943.7 1554.3,953.1 1556.9,962.6 1559.5,972.4 1562,982.3 1564.6,992.4 1567.2,1002.7 1569.8,1013.1 1572.3,1023.6 1574.9,1034.1 1577.5,1044.8 1580.1,1055.5 1582.7,1066.3 1585.2,1077.1 1587.8,1087.8 1590.4,1098.6 1593,1109.3 1595.5,1120 1598.1,1130.5 1600.7,1140.9 1603.3,1151 1605.8,1161 1608.4,1170.6 1611,1180 1613.6,1189 1616.1,1197.5 1618.7,1205.6 1621.3,1213.3 1623.9,1220.4 1626.4,1227 1629,1232.9 1631.6,1238.2 1634.2,1242.8 1636.8,1246.7 1639.3,1249.8 1641.9,1252.1 1644.5,1253.5 1647.1,1254.1 1649.6,1253.7 1652.2,1252.3 1654.8,1250 1657.4,1246.5 1659.9,1242 1662.5,1236.3 1665.1,1229.5 1667.7,1221.4 1670.2,1212.1 1672.8,1201.6 1675.4,1190 1678,1177.5 1680.6,1164 1683.1,1149.7 1685.7,1134.6 1688.3,1118.9 1690.9,1102.6 1693.4,1085.8 1696,1068.7 1698.6,1051.2 1701.2,1033.5 1703.7,1015.7 1706.3,997.8 1708.9,979.9 1711.5,962.2 1714,944.7 1716.6,927.5 1719.2,910.6 1721.8,894.3 1724.3,878.5 1726.9,863.3 1729.5,848.9 1732.1,835.2 1734.7,822.5 1737.2,810.8 1739.8,800.1 1742.4,790.6 1745,782.4 1747.5,775.5 1750.1,769.8 1752.7,765.4 1755.3,762.2 1757.8,760.1 1760.4,759.2 1763,759.2 1765.6,760.3 1768.1,762.4 1770.7,765.3 1773.3,769.1 1775.9,773.7 1778.5,779.1 1781,785.2 1783.6,792 1786.2,799.4 1788.8,807.4 1791.3,815.9 1793.9,824.9 1796.5,834.3 1799.1,844.1 1801.6,854.2 1804.2,864.7 1806.8,875.4 1809.4,886.3 1811.9,897.3 1814.5,908.4 1817.1,919.6 1819.7,930.8 1822.3,942 1824.8,953.1 1827.4,964.1 1830,975 1832.6,985.7 1835.1,996.4 1837.7,1006.9 1840.3,1017.3 1842.9,1027.6 1845.4,1037.7 1848,1047.6 1850.6,1057.4 1853.2,1067 1855.7,1076.4 1858.3,1085.6 1860.9,1094.6 1863.5,1103.4 1866,1112 1868.6,1120.4 1871.2,1128.5 1873.8,1136.4 1876.4,1144.1 1878.9,1151.4 1881.5,1158.6 1884.1,1165.4 1886.7,1172 1889.2,1178.3 1891.8,1184.2 1894.4,1189.9 1897,1195.3 1899.5,1200.3 1902.1,1205 1904.7,1209.4 1907.3,1213.4 1909.8,1217.1 1912.4,1220.4 1915,1223.4 1917.6,1226 1920.2,1228.2 1922.7,1230.1 1925.3,1231.6 1927.9,1232.7 1930.5,1233.4 1933,1233.7 1935.6,1233.7 1938.2,1233.2 1940.8,1232.3 1943.3,1231 1945.9,1229.3 1948.5,1227.1 1951.1,1224.5 1953.6,1221.5 1956.2,1218 1958.8,1214.1 1961.4,1209.8 1963.9,1204.9 1966.5,1199.7 1969.1,1193.9 1971.7,1187.7 1974.3,1181 1976.8,1173.8 1979.4,1166.1 1982,1158 1984.6,1149.4 1987.1,1140.4 1989.7,1131 1992.3,1121.3 1994.9,1111.2 1997.4,1100.8 2000,1090.1 2002.6,1079.2 2005.2,1068 2007.7,1056.6 2010.3,1045 2012.9,1033.2 2015.5,1021.3 2018.1,1009.3 2020.6,997.2 2023.2,985.1 2025.8,972.9 2028.4,960.6 2030.9,948.4 2033.5,936.3 2036.1,924.2 2038.7,912.1 2041.2,900.2 2043.8,888.4 2046.4,876.8 2049,865.4 2051.5,854.2 2054.1,843.2 2056.7,832.5 2059.3,822 2061.8,811.9 2064.4,802.1 2067,792.7 2069.6,783.7 2072.2,775.1 2074.7,766.9 2077.3,759.1 2079.9,751.9 2082.5,745.2 2085,739 2087.6,733.3 2090.2,728.3 2092.8,723.9 2095.3,720.1 2097.9,716.9 2100.5,714.5 2103.1,712.8 2105.6,711.8 2108.2,711.5 2110.8,712.1 2113.4,713.4 2116,715.6 2118.5,718.7 2121.1,722.6 2123.7,727.5 2126.3,733.3 2128.8,740.1 2131.4,747.8"/>
<polyline stroke="#00ffff" points="276.4,1270.7 279,1260.5 281.6,1251.2 284.2,1242.7 286.8,1235.1 289.3,1228.4 291.9,1222.4 294.5,1217.2 297.1,1212.8 299.6,1209 302.2,1206 304.8,1203.6 307.4,1201.8 309.9,1200.7 312.5,1200.1 315.1,1200.1 317.7,1200.6 320.2,1201.6 322.8,1203.1 325.4,1205 328,1207.4 330.6,1210.1 333.1,1213.2 335.7,1216.6 338.3,1220.3 340.9,1224.4 343.4,1228.6 346,1233.1 348.6,1237.8 351.2,1242.7 353.7,1247.7 356.3,1252.8 358.9,1258.1 361.5,1263.3 364,1268.7 366.6,1274 369.2,1279.3 371.8,1284.6 374.4,1289.8 376.9,1294.9 379.5,1299.9 382.1,1304.7 384.7,1309.4 387.2,1313.8 389.8,1318 392.4,1321.9 395,1325.6 397.5,1328.9 400.1,1331.9 402.7,1334.6 405.3,1336.8 407.8,1338.6 410.4,1340 413,1340.8 415.6,1341.2 418.1,1341 420.7,1340.3 423.3,1339 425.9,1337.1 428.5,1334.5 431,1331.3 433.6,1327.4 436.2,1322.8 438.8,1317.7 441.3,1312 443.9,1305.8 446.5,1299.1 449.1,1292.1 451.6,1284.7 454.2,1277 456.8,1269 459.4,1260.8 461.9,1252.5 464.5,1244.1 467.1,1235.6 469.7,1227.1 472.3,1218.7 474.8,1210.3 477.4,1202.1 480,1194.1 482.6,1186.3 485.1,1178.8 487.7,1171.7 490.3,1164.9 492.9,1158.5 495.4,1152.7 498,1147.4 500.6,1142.6 503.2,1138.5 505.7,1135.1 508.3,1132.4 510.9,1130.5 513.5,1129.3 516,1128.8 518.6,1129 521.2,1129.8 523.8,1131.2 526.4,1133.2 528.9,1135.7 531.5,1138.6 534.1,1142.1 536.7,1145.9 539.2,1150.1 541.8,1154.7 544.4,1159.5 547,1164.6 549.5,1169.9 552.1,1175.5 554.7,1181.1 557.3,1186.9 559.8,1192.8 562.4,1198.7 565,1204.6 567.6,1210.5 570.2,1216.3 572.7,1222 575.3,1227.6 577.9,1233 580.5,1238.2 583,1243.1 585.6,1247.7 588.2,1252 590.8,1256 593.3,1259.7 595.9,1263.1 598.5,1266.3 601.1,1269.2 603.6,1271.8 606.2,1274.3 608.8,1276.5 611.4,1278.5 613.9,1280.4 616.5,1282.1 619.1,1283.6 621.7,1285 624.3,1286.3 626.8,1287.5 629.4,1288.6 632,1289.6 634.6,1290.6 637.1,1291.5 639.7,1292.4 642.3,1293.3 644.9,1294.1 647.4,1295 650,1295.9 652.6,1296.9 655.2,1297.9 657.7,1299 660.3,1300.1 662.9,1301.4 665.5,1302.8 668.1,1304.3 670.6,1305.8 673.2,1307.5 675.8,1309.2 678.4,1310.9 680.9,1312.6 683.5,1314.4 686.1,1316.1 688.7,1317.7 691.2,1319.4 693.8,1320.9 696.4,1322.4 699,1323.8 701.5,1325 704.1,1326.2 706.7,1327.1 709.3,1327.9 711.9,1328.5 714.4,1328.9 717,1329.1 719.6,1329 722.2,1328.7 724.7,1328.2 727.3,1327.3 729.9,1326.1 732.5,1324.6 735,1322.8 737.6,1320.6 740.2,1318 742.8,1315 745.3,1311.7 747.9,1308.1 750.5,1304.1 753.1,1299.9 755.6,1295.4 758.2,1290.7 760.8,1285.7 763.4,1280.7 766,1275.4 768.5,1270.1 771.1,1264.6 773.7,1259.1 776.3,1253.5 778.8,1248 781.4,1242.4 784,1236.9 786.6,1231.5 789.1,1226.2 791.7,1221 794.3,1215.9 796.9,1211 799.4,1206.4 802,1201.9 804.6,1197.8 807.2,1193.9 809.8,1190.3 812.3,1187.1 814.9,1184.3 817.5,1181.8 820.1,1179.8 822.6,1178.1 825.2,1176.9 827.8,1176 830.4,1175.5 832.9,1175.3 835.5,1175.4 838.1,1175.8 840.7,1176.5 843.2,1177.4 845.8,1178.6 848.4,1180 851,1181.6 853.5,1183.4 856.1,1185.3 858.7,1187.4 861.3,1189.6 863.9,1192 866.4,1194.4 869,1196.8 871.6,1199.4 874.2,1201.9 876.7,1204.5 879.3,1207.1 881.9,1209.6 884.5,1212.1 887,1214.5 889.6,1216.9 892.2,1219.2 894.8,1221.3 897.3,1223.3 899.9,1225.2 902.5,1226.9 905.1,1228.6 907.7,1230.1 910.2,1231.5 912.8,1232.9 915.4,1234.1 918,1235.2 920.5,1236.3 923.1,1237.3 925.7,1238.2 928.3,1239.1 930.8,1239.9 933.4,1240.6 936,1241.3 938.6,1242 941.1,1242.6 943.7,1243.3 946.3,1243.9 948.9,1244.5 951.4,1245 954,1245.6 956.6,1246.2 959.2,1246.8 961.8,1247.4 964.3,1248.1 966.9,1248.7 969.5,1249.4 972.1,1250.2 974.6,1251 977.2,1251.8 979.8,1252.7 982.4,1253.6 984.9,1254.5 987.5,1255.4 990.1,1256.3 992.7,1257.2 995.2,1258.1 997.8,1258.9 1000.4,1259.7 1003,1260.5 1005.6,1261.2 1008.1,1261.8 1010.7,1262.3 1013.3,1262.8 1015.9,1263.2 1018.4,1263.4 1021,1263.5 1023.6,1263.6 1026.2,1263.5 1028.7,1263.2 1031.3,1262.8 1033.9,1262.2 1036.5,1261.5 1039,1260.6 1041.6,1259.5 1044.2,1258.2 1046.8,1256.7 1049.4,1255 1051.9,1253.1 1054.5,1250.9 1057.1,1248.6 1059.7,1246.1 1062.2,1243.5 1064.8,1240.7 1067.4,1237.9 1070,1234.9 1072.5,1231.8 1075.1,1228.7 1077.7,1225.6 1080.3,1222.4 1082.8,1219.2 1085.4,1216 1088,1212.9 1090.6,1209.8 1093.1,1206.8 1095.7,1203.9 1098.3,1201 1100.9,1198.3 1103.5,1195.8 1106,1193.3 1108.6,1191.1 1111.2,1189.1 1113.8,1187.3 1116.3,1185.7 1118.9,1184.3 1121.5,1183.3 1124.1,1182.5 1126.6,1182 1129.2,1181.8 1131.8,1182 1134.4,1182.4 1136.9,1183.1 1139.5,1184.1 1142.1,1185.3 1144.7,1186.8 1147.3,1188.4 1149.8,1190.3 1152.4,1192.3 1155,1194.5 1157.6,1196.9 1160.1,1199.4 1162.7,1202 1165.3,1204.7 1167.9,1207.5 1170.4,1210.4 1173,1213.3 1175.6,1216.3 1178.2,1219.3 1180.7,1222.4 1183.3,1225.4 1185.9,1228.4 1188.5,1231.4 1191,1234.3 1193.6,1237.1 1196.2,1239.9 1198.8,1242.6 1201.4,1245.2 1203.9,1247.6 1206.5,1249.9 1209.1,1252.1 1211.7,1254.1 1214.2,1256 1216.8,1257.8 1219.4,1259.5 1222,1261.1 1224.5,1262.6 1227.1,1264.1 1229.7,1265.4 1232.3,1266.7 1234.8,1268 1237.4,1269.1 1240,1270.3 1242.6,1271.4 1245.2,1272.5 1247.7,1273.5 1250.3,1274.6 1252.9,1275.6 1255.5,1276.6 1258,1277.7 1260.6,1278.8 1263.2,1279.9 1265.8,1281 1268.3,1282.2 1270.9,1283.4 1273.5,1284.7 1276.1,1286 1278.6,1287.4 1281.2,1288.9 1283.8,1290.5 1286.4,1292.1 1288.9,1293.8 1291.5,1295.5 1294.1,1297.3 1296.7,1299 1299.3,1300.8 1301.8,1302.5 1304.4,1304.1 1307,1305.7 1309.6,1307.2 1312.1,1308.6 1314.7,1309.9 1317.3,1311 1319.9,1312 1322.4,1312.8 1325,1313.5 1327.6,1313.9 1330.2,1314.1 1332.7,1314.1 1335.3,1313.8 1337.9,1313.2 1340.5,1312.4 1343.1,1311.2 1345.6,1309.7 1348.2,1307.9 1350.8,1305.7 1353.4,1303.1 1355.9,1300.2 1358.5,1296.8 1361.1,1293 1363.7,1288.8 1366.2,1284.3 1368.8,1279.4 1371.4,1274.3 1374,1268.9 1376.5,1263.2 1379.1,1257.4 1381.7,1251.4 1384.3,1245.3 1386.8,1239.1 1389.4,1232.9 1392,1226.6 1394.6,1220.4 1397.2,1214.2 1399.7,1208.1 1402.3,1202.1 1404.9,1196.3 1407.5,1190.6 1410,1185.2 1412.6,1180.1 1415.2,1175.2 1417.8,1170.6 1420.3,1166.4 1422.9,1162.6 1425.5,1159.3 1428.1,1156.3 1430.6,1153.9 1433.2,1152 1435.8,1150.7 1438.4,1150 1441,1149.8 1443.5,1150.2 1446.1,1151.1 1448.7,1152.4 1451.3,1154.3 1453.8,1156.6 1456.4,1159.3 1459,1162.3 1461.6,1165.8 1464.1,1169.5 1466.7,1173.6 1469.3,1177.9 1471.9,1182.5 1474.4,1187.3 1477,1192.3 1479.6,1197.5 1482.2,1202.8 1484.8,1208.2 1487.3,1213.7 1489.9,1219.3 1492.5,1224.9 1495.1,1230.5 1497.6,1236.1 1500.2,1241.6 1502.8,1247.1 1505.4,1252.5 1507.9,1257.7 1510.5,1262.8 1513.1,1267.7 1515.7,1272.4 1518.2,1276.9 1520.8,1281.2 1523.4,1285.3 1526,1289.2 1528.5,1292.9 1531.1,1296.5 1533.7,1299.8 1536.3,1303 1538.9,1306 1541.4,1308.8 1544,1311.5 1546.6,1313.9 1549.2,1316.3 1551.7,1318.5 1554.3,1320.5 1556.9,1322.4 1559.5,1324.1 1562,1325.7 1564.6,1327.1 1567.2,1328.4 1569.8,1329.6 1572.3,1330.7 1574.9,1331.6 1577.5,1332.4 1580.1,1333.1 1582.7,1333.7 1585.2,1334.2 1587.8,1334.5 1590.4,1334.8 1593,1335 1595.5,1335 1598.1,1335 1600.7,1334.9 1603.3,1334.7 1605.8,1334.4 1608.4,1334 1611,1333.5 1613.6,1332.9 1616.1,1332.3 1618.7,1331.5 1621.3,1330.7 1623.9,1329.8 1626.4,1328.7 1629,1327.7 1631.6,1326.5 1634.2,1325.2 1636.8,1323.9 1639.3,1322.5 1641.9,1321 1644.5,1319.4 1647.1,1317.8 1649.6,1316.1 1652.2,1314.3 1654.8,1312.4 1657.4,1310.5 1659.9,1308.4 1662.5,1306.4 1665.1,1304.2 1667.7,1302 1670.2,1299.7 1672.8,1297.4 1675.4,1295 1678,1292.6 1680.6,1290.1 1683.1,1287.6 1685.7,1285.1 1688.3,1282.6 1690.9,1280.1 1693.4,1277.6 1696,1275.1 1698.6,1272.6 1701.2,1270.2 1703.7,1267.8 1706.3,1265.4 1708.9,1263.2 1711.5,1261 1714,1258.8 1716.6,1256.8 1719.2,1254.8 1721.8,1253 1724.3,1251.2 1726.9,1249.6 1729.5,1248.1 1732.1,1246.7 1734.7,1245.5 1737.2,1244.4 1739.8,1243.5 1742.4,1242.8 1745,1242.2 1747.5,1241.8 1750.1,1241.6 1752.7,1241.6 1755.3,1241.7 1757.8,1242 1760.4,1242.4 1763,1243 1765.6,1243.6 1768.1,1244.5 1770.7,1245.4 1773.3,1246.4 1775.9,1247.6 1778.5,1248.8 1781,1250.1 1783.6,1251.5 1786.2,1252.9 1788.8,1254.5 1791.3,1256 1793.9,1257.7 1796.5,1259.3 1799.1,1261 1801.6,1262.7 1804.2,1264.4 1806.8,1266.1 1809.4,1267.9 1811.9,1269.6 1814.5,1271.3 1817.1,1273 1819.7,1274.6 1822.3,1276.2 1824.8,1277.8 1827.4,1279.3 1830,1280.7 1832.6,1282.1 1835.1,1283.4 1837.7,1284.7 1840.3,1285.9 1842.9,1287 1845.4,1288.1 1848,1289.1 1850.6,1290 1853.2,1290.8 1855.7,1291.6 1858.3,1292.3 1860.9,1292.8 1863.5,1293.3 1866,1293.7 1868.6,1294 1871.2,1294.2 1873.8,1294.3 1876.4,1294.3 1878.9,1294.1 1881.5,1293.9 1884.1,1293.5 1886.7,1293 1889.2,1292.5 1891.8,1291.7 1894.4,1290.9 1897,1289.9 1899.5,1288.8 1902.1,1287.6 1904.7,1286.2 1907.3,1284.7 1909.8,1283.1 1912.4,1281.5 1915,1279.7 1917.6,1277.9 1920.2,1276 1922.7,1274.1 1925.3,1272.1 1927.9,1270.1 1930.5,1268.1 1933,1266.1 1935.6,1264.1 1938.2,1262.1 1940.8,1260.2 1943.3,1258.2 1945.9,1256.4 1948.5,1254.6 1951.1,1252.9 1953.6,1251.2 1956.2,1249.7 1958.8,1248.3 1961.4,1247 1963.9,1245.8 1966.5,1244.7 1969.1,1243.8 1971.7,1243.1 1974.3,1242.6 1976.8,1242.2 1979.4,1242 1982,1242 1984.6,1242.2 1987.1,1242.6 1989.7,1243.1 1992.3,1243.8 1994.9,1244.6 1997.4,1245.6 2000,1246.6 2002.6,1247.9 2005.2,1249.2 2007.7,1250.6 2010.3,1252.1 2012.9,1253.7 2015.5,1255.4 2018.1,1257.1 2020.6,1258.9 2023.2,1260.7 2025.8,1262.6 2028.4,1264.5 2030.9,1266.5 2033.5,1268.4 2036.1,1270.4 2038.7,1272.4 2041.2,1274.3 2043.8,1276.3 2046.4,1278.2 2049,1280.1 2051.5,1281.9 2054.1,1283.7 2056.7,1285.4 2059.3,1287.1 2061.8,1288.7 2064.4,1290.1 2067,1291.5 2069.6,1292.8 2072.2,1294 2074.7,1295.1 2077.3,1296 2079.9,1296.8 2082.5,1297.4 2085,1297.9 2087.6,1298.2 2090.2,1298.4 2092.8,1298.3 2095.3,1298.1 2097.9,1297.7 2100.5,1297.1 2103.1,1296.3 2105.6,1295.2 2108.2,1293.9 2110.8,1292.4 2113.4,1290.6 2116,1288.5 2118.5,1286.2 2121.1,1283.7 2123.7,1280.8 2126.3,1277.6 2128.8,1274.2 2131.4,1270.4"/>
<polyline stroke="#ff00ff" points="276.4,1281.4 279,1285.5 281.6,1289.4 284.2,1293.1 286.8,1296.7 289.3,1300 291.9,1303.2 294.5,1306.2 297.1,1309.1 299.6,1311.8 302.2,1314.3 304.8,1316.7 307.4,1319 309.9,1321.1 312.5,1323 315.1,1324.8 317.7,1326.5 320.2,1328.1 322.8,1329.5 325.4,1330.8 328,1332 330.6,1333 333.1,1334 335.7,1334.8 338.3,1335.6 340.9,1336.2 343.4,1336.8 346,1337.2 348.6,1337.6 351.2,1337.9 353.7,1338.1 356.3,1338.2 358.9,1338.3 361.5,1338.3 364,1338.2 366.6,1338.1 369.2,1337.9 371.8,1337.6 374.4,1337.3 376.9,1337 379.5,1336.6 382.1,1336.2 384.7,1335.7 387.2,1335.2 389.8,1334.7 392.4,1334.2 395,1333.6 397.5,1333 400.1,1332.4 402.7,1331.8 405.3,1331.2 407.8,1330.6 410.4,1330.1 413,1329.5 415.6,1328.9 418.1,1328.3 420.7,1327.8 423.3,1327.3 425.9,1326.8 428.5,1326.3 431,1325.9 433.6,1325.5 436.2,1325.2 438.8,1324.8 441.3,1324.6 443.9,1324.3 446.5,1324.1 449.1,1323.9 451.6,1323.8 454.2,1323.7 456.8,1323.6 459.4,1323.5 461.9,1323.5 464.5,1323.4 467.1,1323.5 469.7,1323.5 472.3,1323.5 474.8,1323.6 477.4,1323.7 480,1323.8 482.6,1323.9 485.1,1324.1 487.7,1324.2 490.3,1324.4 492.9,1324.6 495.4,1324.8 498,1325 500.6,1325.2 503.2,1325.4 505.7,1325.7 508.3,1325.9 510.9,1326.1 513.5,1326.4 516,1326.6 518.6,1326.9 521.2,1327.1 523.8,1327.4 526.4,1327.6 528.9,1327.9 531.5,1328.1 534.1,1328.4 536.7,1328.6 539.2,1328.8 541.8,1329.1 544.4,1329.3 547,1329.5 549.5,1329.7 552.1,1329.9 554.7,1330.1 557.3,1330.2 559.8,1330.4 562.4,1330.5 565,1330.6 567.6,1330.7 570.2,1330.8 572.7,1330.9 575.3,1331 577.9,1331 580.5,1331 583,1331 585.6,1331 588.2,1331 590.8,1330.9 593.3,1330.8 595.9,1330.7 598.5,1330.6 601.1,1330.4 603.6,1330.3 606.2,1330.1 608.8,1329.9 611.4,1329.7 613.9,1329.5 616.5,1329.3 619.1,1329.1 621.7,1328.9 624.3,1328.6 626.8,1328.4 629.4,1328.2 632,1328 634.6,1327.7 637.1,1327.5 639.7,1327.3 642.3,1327.1 644.9,1326.9 647.4,1326.7 650,1326.6 652.6,1326.4 655.2,1326.2 657.7,1326.1 660.3,1326 662.9,1325.9 665.5,1325.8 668.1,1325.8 670.6,1325.7 673.2,1325.7 675.8,1325.7 678.4,1325.7 680.9,1325.7 683.5,1325.8 686.1,1325.9 688.7,1326 691.2,1326.1 693.8,1326.2 696.4,1326.3 699,1326.5 701.5,1326.7 704.1,1326.8 706.7,1327 709.3,1327.3 711.9,1327.5 714.4,1327.7 717,1328 719.6,1328.3 722.2,1328.6 724.7,1328.9 727.3,1329.2 729.9,1329.5 732.5,1329.9 735,1330.2 737.6,1330.6 740.2,1331 742.8,1331.4 745.3,1331.8 747.9,1332.2 750.5,1332.6 753.1,1333.1 755.6,1333.5 758.2,1333.9 760.8,1334.3 763.4,1334.7 766,1335.1 768.5,1335.5 771.1,1335.8 773.7,1336.2 776.3,1336.5 778.8,1336.8 781.4,1337 784,1337.3 786.6,1337.5 789.1,1337.6 791.7,1337.8 794.3,1337.9 796.9,1337.9 799.4,1337.9 802,1337.9 804.6,1337.8 807.2,1337.6 809.8,1337.4 812.3,1337.1 814.9,1336.8 817.5,1336.4 820.1,1335.9 822.6,1335.4 825.2,1334.8 827.8,1334.2 830.4,1333.5 832.9,1332.8 835.5,1332.1 838.1,1331.3 840.7,1330.5 843.2,1329.7 845.8,1328.9 848.4,1328 851,1327.2 853.5,1326.3 856.1,1325.5 858.7,1324.7 861.3,1323.9 863.9,1323.1 866.4,1322.4 869,1321.7 871.6,1321 874.2,1320.4 876.7,1319.8 879.3,1319.3 881.9,1318.8 884.5,1318.5 887,1318.1 889.6,1317.9 892.2,1317.8 894.8,1317.7 897.3,1317.7 899.9,1317.8 902.5,1318 905.1,1318.3 907.7,1318.6 910.2,1319 912.8,1319.4 915.4,1319.9 918,1320.4 920.5,1320.9 923.1,1321.5 925.7,1322 928.3,1322.5 930.8,1323.1 933.4,1323.6 936,1324 938.6,1324.5 941.1,1324.9 943.7,1325.2 946.3,1325.5 948.9,1325.8 951.4,1325.9 954,1326 956.6,1326 959.2,1325.9 961.8,1325.6 964.3,1325.3 966.9,1324.8 969.5,1324.2 972.1,1323.5 974.6,1322.6 977.2,1321.6 979.8,1320.5 982.4,1319.2 984.9,1317.9 987.5,1316.5 990.1,1315 992.7,1313.5 995.2,1311.9 997.8,1310.3 1000.4,1308.6 1003,1307 1005.6,1305.4 1008.1,1303.8 1010.7,1302.2 1013.3,1300.7 1015.9,1299.3 1018.4,1297.9 1021,1296.6 1023.6,1295.4 1026.2,1294.3 1028.7,1293.4 1031.3,1292.6 1033.9,1291.9 1036.5,1291.5 1039,1291.2 1041.6,1291 1044.2,1291.1 1046.8,1291.5 1049.4,1292 1051.9,1292.8 1054.5,1293.8 1057.1,1295 1059.7,1296.4 1062.2,1298 1064.8,1299.7 1067.4,1301.5 1070,1303.4 1072.5,1305.5 1075.1,1307.5 1077.7,1309.7 1080.3,1311.8 1082.8,1314 1085.4,1316.1 1088,1318.2 1090.6,1320.2 1093.1,1322.2 1095.7,1324 1098.3,1325.8 1100.9,1327.4 1103.5,1328.8 1106,1330.1 1108.6,1331.1 1111.2,1332 1113.8,1332.6 1116.3,1332.9 1118.9,1333 1121.5,1332.8 1124.1,1332.2 1126.6,1331.3 1129.2,1330 1131.8,1328.5 1134.4,1326.6 1136.9,1324.4 1139.5,1321.9 1142.1,1319.2 1144.7,1316.4 1147.3,1313.3 1149.8,1310 1152.4,1306.7 1155,1303.2 1157.6,1299.6 1160.1,1296 1162.7,1292.4 1165.3,1288.7 1167.9,1285 1170.4,1281.4 1173,1277.9 1175.6,1274.5 1178.2,1271.1 1180.7,1268 1183.3,1264.9 1185.9,1262.1 1188.5,1259.5 1191,1257.2 1193.6,1255.1 1196.2,1253.3 1198.8,1251.8 1201.4,1250.7 1203.9,1249.9 1206.5,1249.5 1209.1,1249.5 1211.7,1249.9 1214.2,1250.6 1216.8,1251.6 1219.4,1252.9 1222,1254.5 1224.5,1256.3 1227.1,1258.4 1229.7,1260.8 1232.3,1263.3 1234.8,1266 1237.4,1268.8 1240,1271.8 1242.6,1274.9 1245.2,1278.2 1247.7,1281.5 1250.3,1284.9 1252.9,1288.3 1255.5,1291.7 1258,1295.2 1260.6,1298.7 1263.2,1302.1 1265.8,1305.4 1268.3,1308.7 1270.9,1311.9 1273.5,1315 1276.1,1318 1278.6,1320.8 1281.2,1323.5 1283.8,1326 1286.4,1328.3 1288.9,1330.4 1291.5,1332.3 1294.1,1334.1 1296.7,1335.7 1299.3,1337.2 1301.8,1338.5 1304.4,1339.7 1307,1340.7 1309.6,1341.6 1312.1,1342.3 1314.7,1343 1317.3,1343.5 1319.9,1343.9 1322.4,1344.1 1325,1344.3 1327.6,1344.4 1330.2,1344.3 1332.7,1344.2 1335.3,1344 1337.9,1343.7 1340.5,1343.3 1343.1,1342.9 1345.6,1342.3 1348.2,1341.8 1350.8,1341.1 1353.4,1340.4 1355.9,1339.7 1358.5,1338.9 1361.1,1338.1 1363.7,1337.2 1366.2,1336.3 1368.8,1335.4 1371.4,1334.5 1374,1333.5 1376.5,1332.5 1379.1,1331.6 1381.7,1330.6 1384.3,1329.6 1386.8,1328.6 1389.4,1327.6 1392,1326.6 1394.6,1325.7 1397.2,1324.7 1399.7,1323.8 1402.3,1322.9 1404.9,1322.1 1407.5,1321.3 1410,1320.5 1412.6,1319.7 1415.2,1319 1417.8,1318.4 1420.3,1317.8 1422.9,1317.3 1425.5,1316.8 1428.1,1316.4 1430.6,1316.1 1433.2,1315.9 1435.8,1315.7 1438.4,1315.6 1441,1315.6 1443.5,1315.7 1446.1,1315.8 1448.7,1316 1451.3,1316.3 1453.8,1316.5 1456.4,1316.9 1459,1317.3 1461.6,1317.7 1464.1,1318.1 1466.7,1318.6 1469.3,1319 1471.9,1319.5 1474.4,1320 1477,1320.5 1479.6,1320.9 1482.2,1321.4 1484.8,1321.8 1487.3,1322.2 1489.9,1322.5 1492.5,1322.9 1495.1,1323.1 1497.6,1323.4 1500.2,1323.5 1502.8,1323.6 1505.4,1323.7 1507.9,1323.6 1510.5,1323.5 1513.1,1323.3 1515.7,1323 1518.2,1322.6 1520.8,1322.2 1523.4,1321.6 1526,1321 1528.5,1320.3 1531.1,1319.6 1533.7,1318.9 1536.3,1318 1538.9,1317.2 1541.4,1316.3 1544,1315.4 1546.6,1314.5 1549.2,1313.6 1551.7,1312.6 1554.3,1311.7 1556.9,1310.8 1559.5,1309.9 1562,1309 1564.6,1308.2 1567.2,1307.4 1569.8,1306.6 1572.3,1305.8 1574.9,1305.2 1577.5,1304.6 1580.1,1304 1582.7,1303.5 1585.2,1303.1 1587.8,1302.8 1590.4,1302.6 1593,1302.5 1595.5,1302.4 1598.1,1302.5 1600.7,1302.6 1603.3,1302.8 1605.8,1303.1 1608.4,1303.4 1611,1303.8 1613.6,1304.2 1616.1,1304.6 1618.7,1305.1 1621.3,1305.6 1623.9,1306.1 1626.4,1306.6 1629,1307.1 1631.6,1307.7 1634.2,1308.2 1636.8,1308.6 1639.3,1309.1 1641.9,1309.5 1644.5,1309.9 1647.1,1310.2 1649.6,1310.5 1652.2,1310.7 1654.8,1310.8 1657.4,1310.9 1659.9,1310.9 1662.5,1310.8 1665.1,1310.6 1667.7,1310.3 1670.2,1309.9 1672.8,1309.4 1675.4,1308.8 1678,1308.1 1680.6,1307.3 1683.1,1306.5 1685.7,1305.6 1688.3,1304.7 1690.9,1303.8 1693.4,1302.8 1696,1301.8 1698.6,1300.8 1701.2,1299.8 1703.7,1298.8 1706.3,1297.8 1708.9,1296.8 1711.5,1295.9 1714,1295.1 1716.6,1294.3 1719.2,1293.5 1721.8,1292.9 1724.3,1292.3 1726.9,1291.9 1729.5,1291.5 1732.1,1291.2 1734.7,1291.1 1737.2,1291.1 1739.8,1291.2 1742.4,1291.5 1745,1292 1747.5,1292.6 1750.1,1293.4 1752.7,1294.3 1755.3,1295.4 1757.8,1296.6 1760.4,1297.9 1763,1299.3 1765.6,1300.9 1768.1,1302.5 1770.7,1304.1 1773.3,1305.9 1775.9,1307.7 1778.5,1309.5 1781,1311.4 1783.6,1313.2 1786.2,1315.1 1788.8,1317 1791.3,1318.9 1793.9,1320.8 1796.5,1322.6 1799.1,1324.4 1801.6,1326.1 1804.2,1327.8 1806.8,1329.4 1809.4,1330.9 1811.9,1332.3 1814.5,1333.6 1817.1,1334.7 1819.7,1335.8 1822.3,1336.7 1824.8,1337.5 1827.4,1338.1 1830,1338.6 1832.6,1338.9 1835.1,1339.1 1837.7,1339.2 1840.3,1339.2 1842.9,1339 1845.4,1338.8 1848,1338.4 1850.6,1338 1853.2,1337.4 1855.7,1336.8 1858.3,1336.1 1860.9,1335.3 1863.5,1334.5 1866,1333.6 1868.6,1332.6 1871.2,1331.6 1873.8,1330.5 1876.4,1329.4 1878.9,1328.2 1881.5,1327 1884.1,1325.8 1886.7,1324.6 1889.2,1323.3 1891.8,1322.1 1894.4,1320.8 1897,1319.6 1899.5,1318.3 1902.1,1317.1 1904.7,1315.8 1907.3,1314.6 1909.8,1313.4 1912.4,1312.3 1915,1311.1 1917.6,1310.1 1920.2,1309 1922.7,1308 1925.3,1307 1927.9,1306.1 1930.5,1305.2 1933,1304.4 1935.6,1303.6 1938.2,1302.9 1940.8,1302.3 1943.3,1301.8 1945.9,1301.3 1948.5,1300.9 1951.1,1300.6 1953.6,1300.3 1956.2,1300.2 1958.8,1300.1 1961.4,1300.1 1963.9,1300.3 1966.5,1300.5 1969.1,1300.9 1971.7,1301.3 1974.3,1301.9 1976.8,1302.6 1979.4,1303.4 1982,1304.3 1984.6,1305.4 1987.1,1306.5 1989.7,1307.7 1992.3,1309 1994.9,1310.4 1997.4,1311.8 2000,1313.3 2002.6,1314.9 2005.2,1316.5 2007.7,1318.1 2010.3,1319.8 2012.9,1321.4 2015.5,1323.1 2018.1,1324.8 2020.6,1326.5 2023.2,1328.2 2025.8,1329.8 2028.4,1331.4 2030.9,1333 2033.5,1334.6 2036.1,1336 2038.7,1337.5 2041.2,1338.8 2043.8,1340.1 2046.4,1341.3 2049,1342.4 2051.5,1343.4 2054.1,1344.3 2056.7,1345.1 2059.3,1345.7 2061.8,1346.3 2064.4,1346.6 2067,1346.9 2069.6,1347 2072.2,1346.9 2074.7,1346.6 2077.3,1346.2 2079.9,1345.6 2082.5,1344.8 2085,1343.8 2087.6,1342.5 2090.2,1341.1 2092.8,1339.4 2095.3,1337.5 2097.9,1335.3 2100.5,1332.9 2103.1,1330.3 2105.6,1327.4 2108.2,1324.2 2110.8,1320.7 2113.4,1316.9 2116,1312.8 2118.5,1308.5 2121.1,1303.8 2123.7,1298.7 2126.3,1293.4 2128.8,1287.7 2131.4,1281.7"/>
</g>
<rect id="box" x="277.8" y="82.2" width="1855.1" height="1267" stroke="#000" stroke-width="2.7" fill="none"/>
<g id="ticklabels" font-family="'Liberation Sans', Arial, Helvetica, sans-serif" font-size="57" fill="#000">
<text transform="translate(275.8 1407.8) scale(0.987 1)" text-anchor="middle">0</text>
<text transform="translate(431.3 1407.8) scale(0.987 1)" text-anchor="middle">30</text>
<text transform="translate(585.3 1407.8) scale(0.987 1)" text-anchor="middle">60</text>
<text transform="translate(739.3 1407.8) scale(0.987 1)" text-anchor="middle">90</text>
<text transform="translate(893.6 1407.8) scale(0.987 1)" text-anchor="middle">120</text>
<text transform="translate(1047.9 1407.8) scale(0.987 1)" text-anchor="middle">150</text>
<text transform="translate(1204.4 1407.8) scale(0.987 1)" text-anchor="middle">180</text>
<text transform="translate(1358.5 1407.8) scale(0.987 1)" text-anchor="middle">210</text>
<text transform="translate(1512.2 1407.8) scale(0.987 1)" text-anchor="middle">240</text>
<text transform="translate(1667.1 1407.8) scale(0.987 1)" text-anchor="middle">270</text>
<text transform="translate(1820.8 1407.8) scale(0.987 1)" text-anchor="middle">300</text>
<text transform="translate(1975.1 1407.8) scale(0.987 1)" text-anchor="middle">330</text>
<text transform="translate(2131 1407.8) scale(0.987 1)" text-anchor="middle">360</text>
<text transform="translate(265.5 1368) scale(0.987 1)" text-anchor="end">0</text>
<text transform="translate(265.5 1156.4) scale(0.987 1)" text-anchor="end">0.005</text>
<text transform="translate(265.5 945) scale(0.987 1)" text-anchor="end">0.01</text>
<text transform="translate(265.5 733.1) scale(0.987 1)" text-anchor="end">0.015</text>
<text transform="translate(265.5 521) scale(0.987 1)" text-anchor="end">0.02</text>
<text transform="translate(265.5 309.8) scale(0.987 1)" text-anchor="end">0.025</text>
<text transform="translate(265.5 101) scale(0.987 1)" text-anchor="end">0.03</text>
</g>
<g id="axislabels" font-family="'Liberation Serif', 'Times New Roman', Times, serif" font-size="86" fill="#000" style="font-kerning:none">
<text y="1491.5"><tspan x="886.7" textLength="293.2" lengthAdjust="spacingAndGlyphs">Azimuth</tspan> <tspan x="1202.6" textLength="203.2" lengthAdjust="spacingAndGlyphs">Angle</tspan> <tspan x="1424.1" textLength="91.4" lengthAdjust="spacingAndGlyphs">(°)</tspan></text>
<text transform="translate(90.6 706.5) rotate(-90)" text-anchor="middle" textLength="722" lengthAdjust="spacingAndGlyphs">Oil Volume Fraction</text>
</g>
<g id="legend" font-family="'Liberation Sans', Arial, Helvetica, sans-serif" font-size="57" fill="#000">
<rect x="1129.2" y="129.3" width="431.4" height="299.9" fill="#fff" stroke="#000" stroke-width="2.6"/>
<path d="M1162.1 168H1242.8" stroke="#ff0000" stroke-width="2.5"/>
<polygon points="1202.3,156 1187.7,179.6 1216.9,179.6" fill="#ff0000"/>
<text transform="translate(1263.6 190.2) scale(0.987 1)" text-anchor="start">5000r/min</text>
<path d="M1169.7 241.6H1242.8" stroke="#0000ff" stroke-width="2.5"/>
<circle cx="1202.3" cy="241.6" r="11.5" fill="#0000ff"/>
<text transform="translate(1263.6 263.3) scale(0.987 1)" text-anchor="start">10000r/min</text>
<path d="M1164.6 314.3H1239.8" stroke="#00ffff" stroke-width="2.5"/>
<polygon points="1202.3,299.7 1209.2,306.8 1209.2,310.2 1214.1,314.3 1209.2,318.4 1209.2,321.8 1202.3,328.9 1195.4,321.8 1195.4,318.4 1190.5,314.3 1195.4,310.2 1195.4,306.8" fill="#00ffff"/>
<text transform="translate(1263.6 336.4) scale(0.987 1)" text-anchor="start">15000r/min</text>
<path d="M1169.7 384.8H1239.8" stroke="#ff00ff" stroke-width="2.5"/>
<rect x="1190.8" y="373.3" width="23" height="23" fill="#ff00ff"/>
<text transform="translate(1263.6 409.5) scale(0.987 1)" text-anchor="start">20000r/min</text>
</g>
</svg>
</body>
</html>
